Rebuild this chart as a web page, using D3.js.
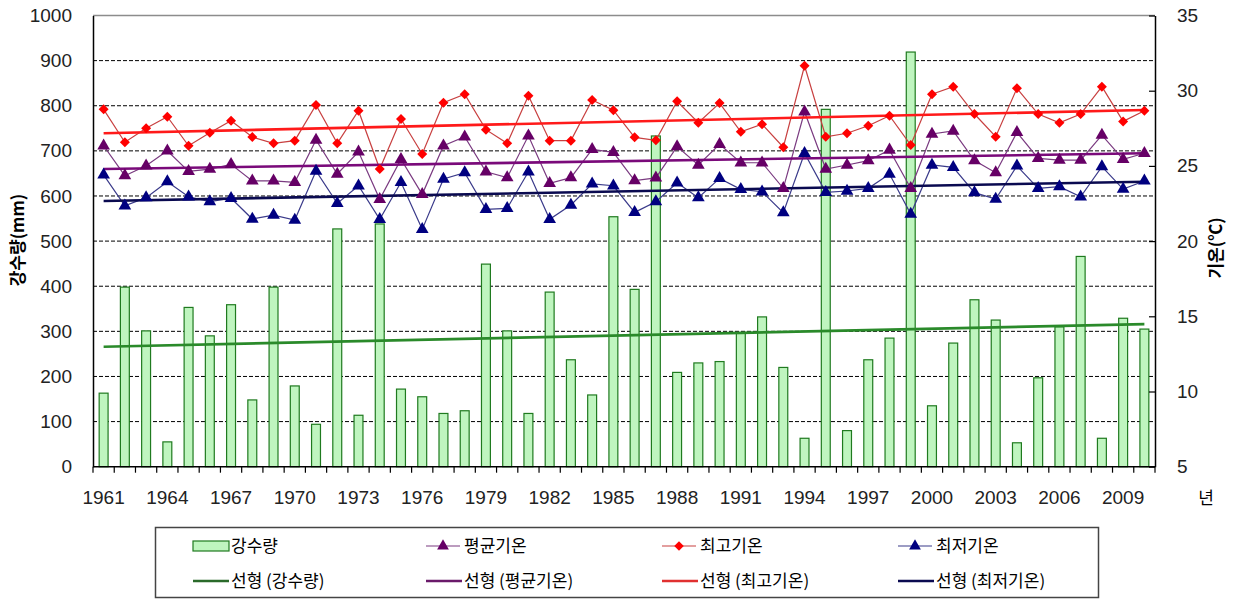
<!DOCTYPE html>
<html>
<head>
<meta charset="utf-8">
<script src="https://cdn.jsdelivr.net/npm/d3@7"></script>
<style>
  body { margin: 0; background: #fff; }
  svg { display: block; font-family: "Liberation Sans", Arial, sans-serif; }
  .kr { font-family: "Noto Sans CJK KR", "Liberation Sans", sans-serif; }
</style>
</head>
<body>
<div id="chart"></div>
<script>
// годы
const years = d3.range(1961, 2011);
const tickYears = d3.range(1961, 2010, 3);

// 강수량 (mm)
const precip = [163, 398, 301, 55, 353, 290, 359, 148, 398, 179,
                94, 527, 114, 538, 172, 155, 118, 124, 449, 301,
                118, 387, 237, 159, 554, 393, 733, 209, 230, 233,
                297, 332, 220, 63, 792, 80, 237, 285, 919, 135,
                274, 370, 325, 53, 197, 310, 466, 63, 329, 305];

// 평균기온
const tAvg = [26.34, 24.35, 25.01, 26.0, 24.64, 24.79, 25.1, 24.0, 24.0, 23.91,
              26.72, 24.46, 25.94, 22.78, 25.44, 23.11, 26.34, 26.94, 24.61, 24.22,
              27.0, 23.84, 24.22, 26.1, 25.9, 24.02, 24.2, 26.28, 25.06, 26.44,
              25.21, 25.21, 23.51, 28.6, 24.79, 25.06, 25.35, 26.06, 23.51, 27.12,
              27.32, 25.35, 24.55, 27.23, 25.5, 25.39, 25.39, 27.05, 25.44, 25.84];

// 최고기온
const tMax = [28.76, 26.57, 27.5, 28.27, 26.34, 27.2, 28.0, 26.92, 26.5, 26.68,
              29.05, 26.5, 28.67, 24.79, 28.12, 25.79, 29.2, 29.76, 27.41, 26.5,
              29.67, 26.68, 26.68, 29.38, 28.7, 26.9, 26.7, 29.3, 27.87, 29.18,
              27.27, 27.77, 26.24, 31.66, 26.94, 27.17, 27.67, 28.34, 26.39, 29.76,
              30.27, 28.45, 26.94, 30.16, 28.45, 27.87, 28.45, 30.27, 27.96, 28.67];

// 최저기온
const tMin = [24.4, 22.35, 22.89, 23.95, 22.95, 22.62, 22.85, 21.47, 21.73, 21.4,
              24.66, 22.51, 23.68, 21.45, 23.91, 20.78, 24.13, 24.55, 22.11, 22.18,
              24.61, 21.45, 22.4, 23.8, 23.68, 21.91, 22.62, 23.88, 22.89, 24.17,
              23.44, 23.28, 21.89, 25.84, 23.24, 23.33, 23.51, 24.46, 21.8, 25.06,
              24.9, 23.22, 22.8, 25.0, 23.51, 23.62, 22.95, 24.95, 23.46, 24.0];

// 선형 추세선: [1961, 2010]
const trendPrecip = [266, 316];
const trendAvg = [24.79, 25.84];
const trendMax = [27.17, 28.72];
const trendMin = [22.67, 23.95];

const leftTicks = d3.range(0, 1001, 100);
const rightTicks = d3.range(5, 36, 5);

const legendRow1 = ["강수량", "평균기온", "최고기온", "최저기온"];
const legendRow2 = ["선형 (강수량)", "선형 (평균기온)", "선형 (최고기온)", "선형 (최저기온)"];

// размеры
const W = 1240, H = 601;
const plot = {left: 93, right: 1155, top: 15.5, bottom: 466.7};

const svg = d3.select("#chart").append("svg")
    .attr("width", W)
    .attr("height", H);

const x = d3.scaleBand()
    .domain(years)
    .range([plot.left, plot.right])
    .paddingInner(0.58)
    .paddingOuter(0.29);
const cx = d => x(d) + x.bandwidth() / 2;

const yL = d3.scaleLinear().domain([0, 1000]).range([plot.bottom, plot.top]);
const yR = d3.scaleLinear().domain([5, 35]).range([plot.bottom, plot.top]);

// сетка
svg.append("g")
    .selectAll("line")
    .data(leftTicks.filter(v => v > 0 && v < 1000))
    .join("line")
      .attr("x1", plot.left).attr("x2", plot.right)
      .attr("y1", d => yL(d)).attr("y2", d => yL(d))
      .attr("stroke", "#000")
      .attr("stroke-width", 1)
      .attr("stroke-dasharray", "4,2");

// верхняя рамка
svg.append("line")
    .attr("x1", plot.left).attr("x2", plot.right)
    .attr("y1", plot.top).attr("y2", plot.top)
    .attr("stroke", "#8c8c8c").attr("stroke-width", 1.5);

// столбцы осадков
svg.append("g")
    .selectAll("rect")
    .data(years)
    .join("rect")
      .attr("x", d => x(d))
      .attr("y", (d, i) => yL(precip[i]))
      .attr("width", x.bandwidth())
      .attr("height", (d, i) => yL(0) - yL(precip[i]))
      .attr("fill", "#bff5bf")
      .attr("stroke", "#1f7a1f")
      .attr("stroke-width", 1.2);

// оси
const axL = svg.append("g")
    .attr("transform", `translate(${plot.left},0)`)
    .call(d3.axisLeft(yL).tickValues(leftTicks).tickFormat(d3.format("d")).tickSize(0).tickPadding(21));
const axR = svg.append("g")
    .attr("transform", `translate(${plot.right},0)`)
    .call(d3.axisRight(yR).tickValues(rightTicks).tickSizeInner(-6).tickSizeOuter(0).tickPadding(22));
[axL, axR].forEach(a => {
  a.select(".domain").attr("stroke", "#000").attr("stroke-width", 1.5);
  a.selectAll(".tick line").attr("stroke", "#000").attr("stroke-width", 1.2);
  a.selectAll("text").attr("font-size", 19).attr("fill", "#222")
      .attr("font-family", "'Liberation Sans', Arial, sans-serif");
});

// ось X
const step = x.step();
const gx = svg.append("g");
gx.append("line")
    .attr("x1", plot.left).attr("x2", plot.right)
    .attr("y1", plot.bottom).attr("y2", plot.bottom)
    .attr("stroke", "#000").attr("stroke-width", 1.5);
gx.selectAll("line.tk")
    .data(d3.range(0, years.length + 1))
    .join("line")
      .attr("class", "tk")
      .attr("x1", i => plot.left + i * step).attr("x2", i => plot.left + i * step)
      .attr("y1", plot.bottom).attr("y2", plot.bottom + 6)
      .attr("stroke", "#000").attr("stroke-width", 1.2);
gx.selectAll("text")
    .data(tickYears)
    .join("text")
      .attr("x", d => cx(d))
      .attr("y", 504)
      .attr("text-anchor", "middle")
      .attr("font-size", 19)
      .attr("fill", "#222")
      .text(d => d);

// линии температур
function series(data, color, width) {
  const line = d3.line()
      .x((d, i) => cx(years[i]))
      .y(d => yR(d));
  svg.append("path")
      .attr("d", line(data))
      .attr("fill", "none")
      .attr("stroke", color)
      .attr("stroke-width", width);
}

// ромб = квадрат, повернутый на 45
function markers(data, shape, color, size) {
  const rot = shape === "diamond" ? 45 : 0;
  const type = shape === "diamond" ? d3.symbolSquare : d3.symbolTriangle;
  svg.append("g")
    .selectAll("path")
    .data(data)
    .join("path")
      .attr("transform", (d, i) => `translate(${cx(years[i])},${yR(d)}) rotate(${rot})`)
      .attr("d", d3.symbol().type(type).size(size))
      .attr("fill", color);
}

function trend(vals, scale, color) {
  svg.append("line")
      .attr("x1", cx(years[0])).attr("x2", cx(years[years.length - 1]))
      .attr("y1", scale(vals[0])).attr("y2", scale(vals[1]))
      .attr("stroke", color)
      .attr("stroke-width", 2.6);
}

// тренд осадков поверх столбцов
trend(trendPrecip, yL, "#2a8a2a");

series(tMax, "#c84040", 1.2);
series(tAvg, "#7a3a80", 1.2);
series(tMin, "#3a3a8a", 1.2);

trend(trendMax, yR, "#ff1a1a");
trend(trendAvg, yR, "#7a0a7a");
trend(trendMin, yR, "#0a0a50");

markers(tMax, "diamond", "#ff0000", 50);
markers(tAvg, "triangle", "#660066", 70);
markers(tMin, "triangle", "#000080", 70);

// подписи осей
svg.append("text")
    .attr("class", "kr")
    .attr("transform", "translate(24,240) rotate(-90)")
    .attr("text-anchor", "middle")
    .attr("font-size", 17)
    .attr("font-weight", "bold")
    .text("강수량(mm)");
svg.append("text")
    .attr("class", "kr")
    .attr("transform", "translate(1222,248) rotate(-90)")
    .attr("text-anchor", "middle")
    .attr("font-size", 17)
    .attr("font-weight", "bold")
    .text("기온(℃)");
svg.append("text")
    .attr("class", "kr")
    .attr("x", 1206).attr("y", 504)
    .attr("text-anchor", "middle")
    .attr("font-size", 17)
    .text("년");

// легенда
const lg = svg.append("g");
lg.append("rect")
    .attr("x", 155.5).attr("y", 527.5)
    .attr("width", 943).attr("height", 70)
    .attr("fill", "#fff")
    .attr("stroke", "#444").attr("stroke-width", 1.5);

const colX = [193, 426, 662, 898];
const row1Y = 546, row2Y = 581;
const lineColors = ["#7a3a80", "#c84040", "#3a3a8a"];
const markColors = ["#660066", "#ff0000", "#000080"];
const markShapes = ["triangle", "diamond", "triangle"];
const trendColors = ["#2a6a2a", "#6a1a6a", "#e03030", "#0a0a50"];

lg.append("rect")
    .attr("x", colX[0]).attr("y", row1Y - 5)
    .attr("width", 36).attr("height", 10)
    .attr("fill", "#bff5bf").attr("stroke", "#1f7a1f").attr("stroke-width", 1.2);

for (let k = 1; k < 4; k++) {
  const dia = markShapes[k - 1] === "diamond";
  lg.append("line")
      .attr("x1", colX[k]).attr("x2", colX[k] + 34)
      .attr("y1", row1Y).attr("y2", row1Y)
      .attr("stroke", lineColors[k - 1]).attr("stroke-width", 1.2);
  lg.append("path")
      .attr("transform", `translate(${colX[k] + 17},${row1Y}) rotate(${dia ? 45 : 0})`)
      .attr("d", d3.symbol().type(dia ? d3.symbolSquare : d3.symbolTriangle).size(dia ? 45 : 60))
      .attr("fill", markColors[k - 1]);
}

for (let k = 0; k < 4; k++) {
  lg.append("line")
      .attr("x1", colX[k]).attr("x2", colX[k] + 36)
      .attr("y1", row2Y).attr("y2", row2Y)
      .attr("stroke", trendColors[k]).attr("stroke-width", 2.6);
}

lg.selectAll("text.r1")
    .data(legendRow1)
    .join("text")
      .attr("class", "kr r1")
      .attr("x", (d, i) => colX[i] + 38)
      .attr("y", row1Y + 6)
      .attr("font-size", 17)
      .text(d => d);
lg.selectAll("text.r2")
    .data(legendRow2)
    .join("text")
      .attr("class", "kr r2")
      .attr("x", (d, i) => colX[i] + 38)
      .attr("y", row2Y + 6)
      .attr("font-size", 17)
      .text(d => d);
</script>
</body>
</html>
